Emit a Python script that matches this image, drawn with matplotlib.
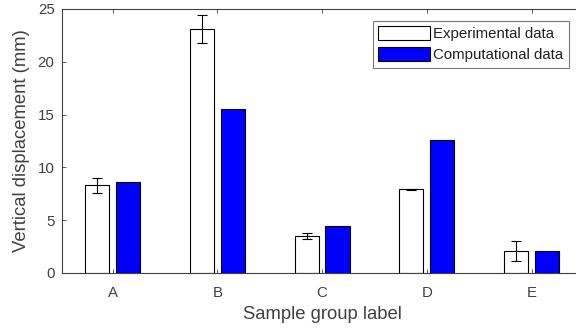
import matplotlib.pyplot as plt
import numpy as np

plt.rcParams["font.family"] = ["Liberation Sans", "DejaVu Sans"]

groups = ["A", "B", "C", "D", "E"]
experimental = [8.3, 23.1, 3.5, 7.95, 2.1]
experimental_err = [0.7, 1.35, 0.25, 0.05, 0.95]
computational = [8.65, 15.5, 4.45, 12.6, 2.07]

W, H = 576, 332
fig = plt.figure(figsize=(W / 100, H / 100), dpi=100)
# axes box in pixels (right side runs past the image edge, as in the reference)
left, right, top, bottom = 61.5, 584, 9, 273
ax = fig.add_axes([left / W, 1 - bottom / H, (right - left) / W, (bottom - top) / H])

axis_col = "#404040"
x = np.arange(1, len(groups) + 1)
bw = 0.23
off = 0.147

ax.bar(x - off, experimental, bw, color="white", edgecolor="black",
       linewidth=0.8, label="Experimental data", zorder=2)
ax.bar(x + off, computational, bw, color="#0000ff", edgecolor="black",
       linewidth=0.8, label="Computational data", zorder=2)
ax.errorbar(x - off, experimental, yerr=experimental_err, fmt="none",
            ecolor="black", elinewidth=0.8, capsize=3.3, capthick=0.8, zorder=3)

ax.set_xlim(0.513, 5.5)
ax.set_ylim(0, 25)
ax.set_xticks(x)
ax.set_xticklabels(groups)
ax.set_yticks(np.arange(0, 26, 5))

for side in ["left", "bottom", "top"]:
    ax.spines[side].set_color(axis_col)
    ax.spines[side].set_linewidth(0.8)
ax.spines["right"].set_visible(False)
ax.tick_params(direction="in", length=3, width=0.6, colors=axis_col,
               labelsize=10.8, top=True)
ax.tick_params(axis="y", pad=5)
ax.tick_params(axis="x", pad=9.5)

ax.set_xlabel("Sample group label", fontsize=13.3, color=axis_col, labelpad=4.5)
ax.set_ylabel("Vertical displacement (mm)", fontsize=13.3, color=axis_col, labelpad=5.5)

leg = ax.legend(loc="upper left", bbox_to_anchor=((372.5 - left) / (right - left), 1 - (21 - top) / (bottom - top)),
                fontsize=10.8, frameon=True, fancybox=False, borderpad=0.35,
                handlelength=3.45, handleheight=1.05, handletextpad=0.25,
                labelspacing=0.4, borderaxespad=0)
leg.get_frame().set_edgecolor("#555555")
leg.get_frame().set_linewidth(0.8)
for t in leg.get_texts():
    t.set_color("#202020")

fig.savefig("out.png", dpi=100)
